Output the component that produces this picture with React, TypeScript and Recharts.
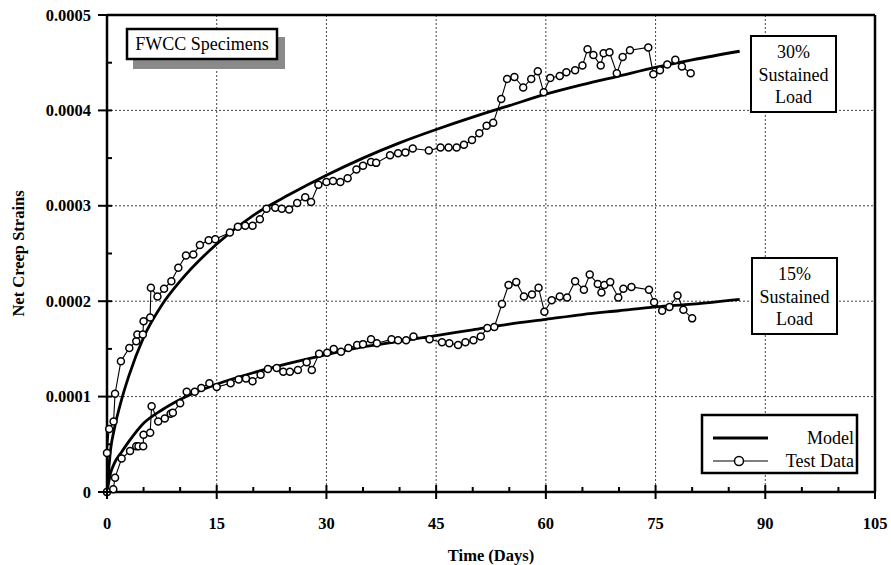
import { CartesianGrid, Customized, Line, LineChart, ReferenceLine, XAxis, YAxis } from "recharts"

// strains are stored in units of 1e-4
const test30: [number, number][] = [
  [0, 0], [0, 0.41], [0.3, 0.66], [0.9, 0.74], [1.1, 1.03], [1.9, 1.37], [3.05, 1.51], [4.0, 1.58],
  [4.15, 1.65], [4.9, 1.65], [5.0, 1.79], [5.9, 1.83], [6.0, 2.14], [6.9, 2.05], [7.8, 2.13], [8.8, 2.21],
  [9.75, 2.35], [10.8, 2.48], [11.8, 2.49], [12.7, 2.59], [13.9, 2.64], [14.8, 2.65], [16.8, 2.72],
  [17.9, 2.78], [18.9, 2.79], [19.9, 2.79], [20.9, 2.86], [21.8, 2.97], [23.0, 2.98], [23.9, 2.97],
  [24.9, 2.96], [26.0, 3.03], [27.1, 3.09], [27.9, 3.04], [28.9, 3.22], [30.0, 3.25], [30.9, 3.26],
  [31.9, 3.25], [32.9, 3.29], [34.1, 3.38], [35.0, 3.42], [36.1, 3.46], [36.8, 3.45], [38.7, 3.53],
  [39.8, 3.55], [40.8, 3.56], [41.8, 3.6], [44.0, 3.58], [45.6, 3.61], [46.7, 3.61], [47.8, 3.61],
  [48.8, 3.64], [49.9, 3.69], [50.9, 3.76], [51.9, 3.84], [52.8, 3.87], [53.9, 4.12], [54.7, 4.33],
  [55.7, 4.35], [56.9, 4.24], [58.0, 4.33], [58.9, 4.41], [59.7, 4.19], [60.6, 4.34], [61.9, 4.36],
  [62.8, 4.4], [64.0, 4.42], [65.0, 4.47], [65.7, 4.64], [66.5, 4.58], [67.5, 4.47], [67.9, 4.6],
  [68.7, 4.61], [69.7, 4.39], [70.5, 4.56], [71.5, 4.63], [74.0, 4.66], [74.7, 4.38], [75.6, 4.42],
  [76.6, 4.48], [77.7, 4.53], [78.6, 4.46], [79.8, 4.39],
]

const test15: [number, number][] = [
  [0, 0], [0.86, 0.03], [1.1, 0.15], [2.0, 0.35], [3.15, 0.43], [4.0, 0.48], [4.3, 0.48], [4.95, 0.48],
  [5.0, 0.6], [5.9, 0.62], [6.1, 0.9], [7.0, 0.74], [7.9, 0.77], [8.7, 0.82], [9.0, 0.83], [10.0, 0.93],
  [10.9, 1.05], [12.0, 1.05], [12.9, 1.09], [14.0, 1.14], [15.0, 1.1], [16.9, 1.14], [18.0, 1.18],
  [19.0, 1.19], [19.9, 1.16], [21.0, 1.23], [22.0, 1.29], [23.2, 1.3], [24.1, 1.26], [25.0, 1.26],
  [26.1, 1.28], [27.3, 1.36], [28.0, 1.28], [29.0, 1.45], [30.1, 1.46], [31.0, 1.5], [32.0, 1.47],
  [33.0, 1.51], [34.2, 1.54], [35.0, 1.55], [36.1, 1.6], [36.9, 1.56], [38.9, 1.6], [39.8, 1.59],
  [40.9, 1.59], [41.9, 1.63], [44.1, 1.6], [45.8, 1.57], [46.8, 1.56], [48.0, 1.54], [49.0, 1.57],
  [50.1, 1.59], [51.1, 1.63], [52.0, 1.72], [52.95, 1.73], [54.0, 1.97], [54.9, 2.17], [55.95, 2.2],
  [57.0, 2.05], [58.1, 2.07], [59.0, 2.14], [59.8, 1.89], [60.8, 2.01], [61.9, 2.05], [62.9, 2.04],
  [64.0, 2.21], [65.2, 2.12], [66.0, 2.28], [67.1, 2.18], [67.6, 2.09], [68.0, 2.17], [68.8, 2.2],
  [69.9, 2.04], [70.6, 2.13], [71.7, 2.15], [74.1, 2.12], [74.8, 1.99], [75.9, 1.9], [76.9, 1.94],
  [78.0, 2.06], [78.8, 1.91], [80.0, 1.82],
]

const model30: [number, number][] = [
  [0, 0], [0.5, 0.45], [1, 0.66], [2, 0.97], [3, 1.22], [5, 1.62], [7.5, 1.96], [10, 2.21], [15, 2.6],
  [20, 2.9], [25, 3.12], [30, 3.32], [35, 3.5], [40, 3.66], [45, 3.8], [50, 3.93], [55, 4.05],
  [60, 4.17], [65, 4.27], [70, 4.36], [75, 4.45], [80, 4.53], [86.5, 4.62],
]

const model15: [number, number][] = [
  [0, 0], [0.5, 0.2], [1, 0.3], [2, 0.42], [3, 0.53], [5, 0.72], [7.5, 0.86], [10, 0.97], [15, 1.13],
  [20, 1.25], [25, 1.35], [30, 1.44], [35, 1.52], [40, 1.58], [45, 1.64], [50, 1.7], [55, 1.76],
  [60, 1.81], [65, 1.86], [70, 1.9], [75, 1.94], [80, 1.97], [86.5, 2.02],
]

const dayTicks = [0, 5, 10, 15, 20, 25, 30, 35, 40, 45, 50, 55, 60, 65, 70, 75, 80, 85, 90, 95, 100, 105]
const strainTicks = [0, 0.5, 1, 1.5, 2, 2.5, 3, 3.5, 4, 4.5, 5]

const serif = "'Liberation Serif', 'Times New Roman', serif"

const toRows = (pts: [number, number][]) => pts.map(([t, v]) => ({ t, v }))

const DayTick = (props: any) => {
  const { x, y, payload } = props
  const major = payload.value % 15 === 0
  return (
    <g>
      <line x1={x} x2={x} y1={major ? y - 7 : y - 5} y2={major ? y + 7 : y} stroke="#000" strokeWidth={2} />
      {major && (
        <text x={x} y={y + 37} textAnchor="middle" fontFamily={serif} fontWeight="bold" fontSize={16.5}>
          {payload.value}
        </text>
      )}
    </g>
  )
}

const StrainTick = (props: any) => {
  const { x, y, payload } = props
  const major = Number.isInteger(payload.value)
  const label = payload.value === 0 ? "0" : (payload.value / 10000).toFixed(4)
  return (
    <g>
      <line x1={major ? x - 9 : x} x2={x + 5} y1={y} y2={y} stroke="#000" strokeWidth={2} />
      {major && (
        <text x={x - 16} y={y + 5.5} textAnchor="end" fontFamily={serif} fontWeight="bold" fontSize={16.5}>
          {label}
        </text>
      )}
    </g>
  )
}

const LoadBox = ({ x, y, pct }: { x: number; y: number; pct: string }) => (
  <g fontFamily={serif} fontSize={18} textAnchor="middle">
    <rect x={x} y={y} width={85} height={76} fill="#fff" stroke="#000" strokeWidth={2} />
    <text x={x + 42.5} y={y + 22}>{pct}</text>
    <text x={x + 42.5} y={y + 45}>Sustained</text>
    <text x={x + 42.5} y={y + 67}>Load</text>
  </g>
)

const Annotations = () => (
  <g>
    <rect x={133} y={37} width={152} height={32} fill="#8a8a8a" />
    <rect x={127} y={29} width={150} height={30} fill="#fff" stroke="#000" strokeWidth={2.5} />
    <text x={202} y={50} textAnchor="middle" fontFamily={serif} fontSize={18}>FWCC Specimens</text>
    <LoadBox x={751} y={36} pct="30%" />
    <LoadBox x={752} y={258} pct="15%" />
    <g fontFamily={serif} fontSize={18}>
      <rect x={702} y={415} width={155} height={58} fill="#fff" stroke="#000" strokeWidth={2.5} />
      <line x1={713} x2={768} y1={438} y2={438} stroke="#000" strokeWidth={3} />
      <text x={854} y={444} textAnchor="end">Model</text>
      <line x1={713} x2={768} y1={461} y2={461} stroke="#000" strokeWidth={1.2} />
      <circle cx={739} cy={461} r={4.5} fill="#fff" stroke="#000" strokeWidth={1.5} />
      <text x={854} y={467} textAnchor="end">Test Data</text>
    </g>
  </g>
)

export default function App() {
  return (
    <div style={{ position: "absolute", left: 0, top: 0, background: "#fff" }}>
      <LineChart width={891} height={565} margin={{ top: 15, right: 16, bottom: 0, left: 0 }}>
        <CartesianGrid
          stroke="#444"
          strokeDasharray="2 2"
          horizontalValues={[1, 2, 3, 4]}
          verticalValues={[15, 30, 45, 60, 75, 90]}
        />
        <XAxis
          type="number"
          dataKey="t"
          domain={[0, 105]}
          ticks={dayTicks}
          interval={0}
          height={73}
          tickSize={0}
          tickMargin={0}
          tickLine={false}
          axisLine={{ stroke: "#000", strokeWidth: 2.5 }}
          tick={<DayTick />}
          allowDuplicatedCategory={false}
          label={{
            value: "Time (Days)",
            position: "insideBottom",
            offset: 4,
            style: { fontFamily: serif, fontWeight: "bold", fontSize: 16.5, fill: "#000" },
          }}
        />
        <YAxis
          type="number"
          domain={[0, 5]}
          ticks={strainTicks}
          interval={0}
          width={107}
          tickSize={0}
          tickMargin={0}
          tickLine={false}
          axisLine={{ stroke: "#000", strokeWidth: 2.5 }}
          tick={<StrainTick />}
          label={{
            value: "Net Creep Strains",
            angle: -90,
            position: "insideLeft",
            offset: 18,
            style: { fontFamily: serif, fontWeight: "bold", fontSize: 16.5, fill: "#000", textAnchor: "middle" },
          }}
        />
        <ReferenceLine y={5} stroke="#000" strokeWidth={2.5} />
        <ReferenceLine x={105} stroke="#000" strokeWidth={2.5} />
        <Line data={toRows(model30)} dataKey="v" type="monotone" stroke="#000" strokeWidth={2.8} dot={false} isAnimationActive={false} />
        <Line data={toRows(model15)} dataKey="v" type="monotone" stroke="#000" strokeWidth={2.8} dot={false} isAnimationActive={false} />
        <Line
          data={toRows(test30)}
          dataKey="v"
          type="linear"
          stroke="#000"
          strokeWidth={1.1}
          dot={{ r: 3.5, fill: "#fff", stroke: "#000", strokeWidth: 1.5 }}
          isAnimationActive={false}
        />
        <Line
          data={toRows(test15)}
          dataKey="v"
          type="linear"
          stroke="#000"
          strokeWidth={1.1}
          dot={{ r: 3.5, fill: "#fff", stroke: "#000", strokeWidth: 1.5 }}
          isAnimationActive={false}
        />
        <Customized component={<Annotations />} />
      </LineChart>
    </div>
  )
}
